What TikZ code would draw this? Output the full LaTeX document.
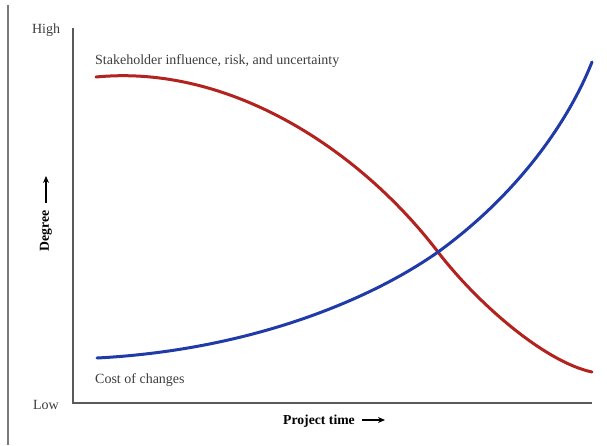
\documentclass[tikz,border=0pt]{standalone}
\usepackage{fontspec}
\setmainfont{Liberation Serif}
\usetikzlibrary{arrows.meta}
\definecolor{redc}{RGB}{178,34,30}
\definecolor{bluec}{RGB}{32,58,168}
\definecolor{axisc}{RGB}{90,90,90}
\definecolor{textc}{RGB}{60,60,60}
\tikzset{
  axisline/.style={draw=axisc, line width=1.4pt},
  curve/.style={line width=3pt, line cap=round},
  lbl/.style={text=textc, font=\fontsize{14}{16}\selectfont, inner sep=0pt},
  boldlbl/.style={text=black, font=\bfseries\fontsize{13.7}{16}\selectfont, inner sep=0pt},
  arr/.style={-{Stealth[length=7pt,width=6pt]}, line width=1.1pt, black}
}
\begin{document}
\begin{tikzpicture}[x=1pt,y=-1pt]
\useasboundingbox (0,0) rectangle (607,445);
% outer frame line
\draw[draw=axisc!80, line width=1.6pt] (8,5) -- (8,445);
% axes
\coordinate (otop) at (73,28);
\coordinate (orig) at (73,403);
\coordinate (xend) at (592,403);
\draw[axisline] (otop) -- (orig) -- (xend);
% labels
\node[lbl, anchor=base] (high) at (46,33) {High};
\node[lbl, anchor=base] (low) at (46,409) {Low};
\node[lbl, anchor=base west] (stake) at (95,64) {Stakeholder influence, risk, and uncertainty};
\node[lbl, anchor=base west] (cost) at (95,383) {Cost of changes};
\node[boldlbl, rotate=90, anchor=center] (degree) at (46,231) {Degree};
\coordinate (dA) at (46,203);
\coordinate (dB) at (46,176);
\draw[arr] (dA) -- (dB);
\node[boldlbl, anchor=base east] (ptime) at (355,424) {Project time};
\coordinate (pA) at (362,420);
\coordinate (pB) at (385,420);
\draw[arr] (pA) -- (pB);
% curves
\coordinate (cross) at (438,252);
\coordinate (rS) at (96,77);
\coordinate (rE) at (592,372);
\coordinate (bS) at (97,358);
\coordinate (bE) at (592,62);
\draw[curve, redc] (rS) .. controls (230,64) and (360,150) .. (cross)
  .. controls (478,304) and (545,362) .. (rE);
\draw[curve, bluec] (bS) .. controls (250,350) and (370,300) .. (cross)
  .. controls (510,200) and (565,130) .. (bE);
\end{tikzpicture}
\end{document}
